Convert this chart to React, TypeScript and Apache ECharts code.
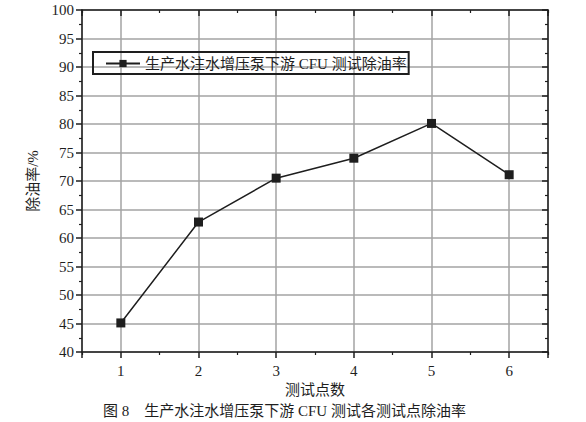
import React, { useEffect, useRef } from "react";
import * as echarts from "echarts";

// Test points and measured oil removal rate (%)
const testPoints = [1, 2, 3, 4, 5, 6];
const removalRate = [45.1, 62.8, 70.5, 74.0, 80.1, 71.1];

const seriesName = "生产水注水增压泵下游 CFU 测试除油率";
const xTitle = "测试点数";
const yTitle = "除油率/%";
const caption = "图 8    生产水注水增压泵下游 CFU 测试各测试点除油率";

const FONT = "'Liberation Serif', 'Noto Sans CJK SC', serif";
const INK = "#1e1e1e";
const GRID = "#a3a3a3";

export default function App() {
  const ref = useRef<HTMLDivElement>(null);

  useEffect(() => {
    if (!ref.current) return;
    const chart = echarts.init(ref.current, null, { renderer: "svg" });

    const intLabel = (v: number) => (Math.abs(v - Math.round(v)) < 1e-6 ? String(Math.round(v)) : "");

    const baseX = {
      type: "value" as const,
      min: 0.5,
      max: 6.5,
      splitNumber: 6,
      axisLine: { show: false, onZero: false },
      axisLabel: { show: false },
      splitLine: { show: false },
    };

    chart.setOption({
      animation: false,
      backgroundColor: "#ffffff",
      grid: { left: 82, right: 38, top: 10, bottom: 70, containLabel: false },
      legend: {
        left: 93,
        top: 52,
        padding: [4, 2, 3, 12],
        borderColor: INK,
        borderWidth: 2,
        borderRadius: 0,
        itemWidth: 34,
        itemHeight: 9,
        textStyle: { fontFamily: FONT, fontSize: 15, color: INK },
        data: [seriesName],
      },
      xAxis: [
        {
          ...baseX,
          position: "bottom",
          axisLine: { show: true, onZero: false, lineStyle: { color: INK, width: 1.5 } },
          axisTick: { show: true, length: 6, lineStyle: { color: INK, width: 1.5 } },
          axisLabel: {
            show: true,
            margin: 11,
            formatter: intLabel,
            fontFamily: FONT,
            fontSize: 15,
            color: INK,
          },
          splitLine: { show: true, lineStyle: { color: GRID, width: 1.5 } },
          name: xTitle,
          nameLocation: "middle",
          nameGap: 28,
          nameTextStyle: { fontFamily: FONT, fontSize: 15, color: INK },
        },
        {
          ...baseX,
          position: "bottom",
          interval: 1,
          axisTick: { show: true, length: 3, lineStyle: { color: INK, width: 1.2 } },
        },
        {
          ...baseX,
          position: "top",
          axisLine: { show: true, onZero: false, lineStyle: { color: INK, width: 1.5 } },
          axisTick: { show: true, inside: true, length: 6, lineStyle: { color: INK, width: 1.5 } },
        },
        {
          ...baseX,
          position: "top",
          interval: 1,
          axisTick: { show: true, inside: true, length: 3, lineStyle: { color: INK, width: 1.2 } },
        },
      ],
      yAxis: [
        {
          type: "value",
          position: "left",
          min: 40,
          max: 100,
          interval: 5,
          axisLine: { show: true, onZero: false, lineStyle: { color: INK, width: 1.5 } },
          axisTick: { show: true, length: 6, lineStyle: { color: INK, width: 1.5 } },
          minorTick: { show: true, splitNumber: 2, length: 3, lineStyle: { color: INK, width: 1.2 } },
          axisLabel: { margin: 8, fontFamily: FONT, fontSize: 15, color: INK },
          splitLine: { show: true, lineStyle: { color: GRID, width: 1.5 } },
          name: yTitle,
          nameLocation: "middle",
          nameRotate: 90,
          nameGap: 40,
          nameTextStyle: { fontFamily: FONT, fontSize: 15, color: INK },
        },
        {
          type: "value",
          position: "right",
          min: 40,
          max: 100,
          interval: 5,
          axisLine: { show: true, onZero: false, lineStyle: { color: INK, width: 1.5 } },
          axisTick: { show: true, inside: true, length: 6, lineStyle: { color: INK, width: 1.5 } },
          minorTick: { show: true, splitNumber: 2, length: 3, lineStyle: { color: INK, width: 1.2 } },
          axisLabel: { show: false },
          splitLine: { show: false },
        },
      ],
      series: [
        {
          name: seriesName,
          type: "line",
          xAxisIndex: 0,
          yAxisIndex: 0,
          data: testPoints.map((x, i) => [x, removalRate[i]]),
          symbol: "rect",
          symbolSize: 9,
          itemStyle: { color: INK },
          lineStyle: { color: INK, width: 1.5 },
          z: 5,
        },
      ],
      graphic: [
        {
          type: "text",
          left: 103,
          top: 403,
          style: { text: caption, fontFamily: FONT, fontSize: 15, fill: INK },
        },
      ],
    });

    return () => chart.dispose();
  }, []);

  return (
    <div
      ref={ref}
      style={{ position: "fixed", left: 0, top: 0, width: 586, height: 422, background: "#fff" }}
    />
  );
}
